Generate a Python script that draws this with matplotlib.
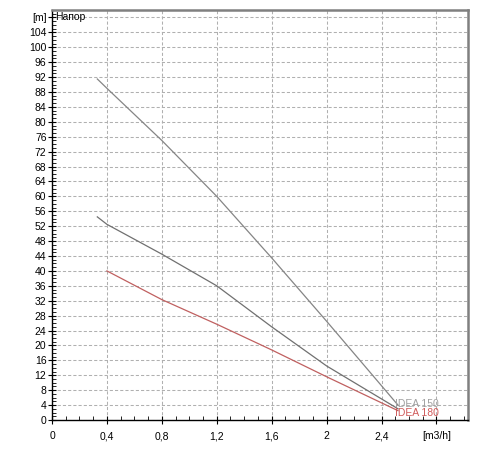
import numpy as np
import matplotlib
matplotlib.use("Agg")
import matplotlib.pyplot as plt
from matplotlib.ticker import MultipleLocator, FixedLocator

# кривые Q-H
q_150 = [0.33, 0.4, 0.8, 1.2, 1.6, 2.0, 2.52]
h_150 = [91.5, 89.0, 75.0, 60.0, 43.5, 26.5, 4.0]

q_mid = [0.33, 0.4, 0.8, 1.2, 1.6, 2.0, 2.52]
h_mid = [54.5, 52.5, 44.5, 36.0, 25.0, 14.5, 3.0]

q_180 = [0.4, 0.8, 1.2, 1.6, 2.0, 2.52]
h_180 = [40.0, 32.3, 25.7, 18.8, 11.6, 2.5]

x_ticks = [0, 0.4, 0.8, 1.2, 1.6, 2.0, 2.4, 2.8]
x_labels = ["0", "0,4", "0,8", "1,2", "1,6", "2", "2,4", "[m3/h]"]
y_ticks = list(range(0, 109, 4))
y_labels = [str(v) for v in range(0, 105, 4)] + ["[m]"]

plt.rcParams["font.family"] = ["Liberation Sans", "DejaVu Sans"]

fig = plt.figure(figsize=(5, 4.5), dpi=100)
ax = fig.add_axes([0.104, 0.0667, 0.832, 0.911])

ax.plot(q_150, h_150, color="#858585", lw=0.9)
ax.plot(q_mid, h_mid, color="#707070", lw=0.9)
ax.plot(q_180, h_180, color="#c06060", lw=0.9)

ax.text(q_150[-1] - 0.02, h_150[-1] + 0.4, "IDEA 150", color="#a0a0a0",
        fontsize=7.5, va="center", ha="left")
ax.text(q_180[-1] - 0.02, h_180[-1] - 0.6, "IDEA 180", color="#d05a5a",
        fontsize=7.5, va="center", ha="left")
ax.text(0.02, 108, "Напор", fontsize=7.5, va="center", ha="left")

ax.set_xlim(0, 3.03)
ax.set_ylim(0, 110)

ax.xaxis.set_major_locator(FixedLocator(x_ticks))
ax.set_xticklabels(x_labels)
ax.xaxis.set_minor_locator(MultipleLocator(0.1))
ax.yaxis.set_major_locator(FixedLocator(y_ticks))
ax.set_yticklabels(y_labels)
ax.yaxis.set_minor_locator(MultipleLocator(1))

ax.tick_params(which="major", direction="inout", length=6, width=0.8, labelsize=7.5, pad=1)
ax.tick_params(which="minor", direction="in", length=3, width=0.6)
ax.tick_params(axis="x", which="major", pad=5)

ax.grid(True, which="major", color="#b0b0b0", ls=(0, (3, 2)), lw=0.75)

for s in ["top", "right"]:
    ax.spines[s].set_color("#808080")
    ax.spines[s].set_linewidth(1.8)
for s in ["left", "bottom"]:
    ax.spines[s].set_color("black")
    ax.spines[s].set_linewidth(1.0)

fig.savefig("out.png", dpi=100)
